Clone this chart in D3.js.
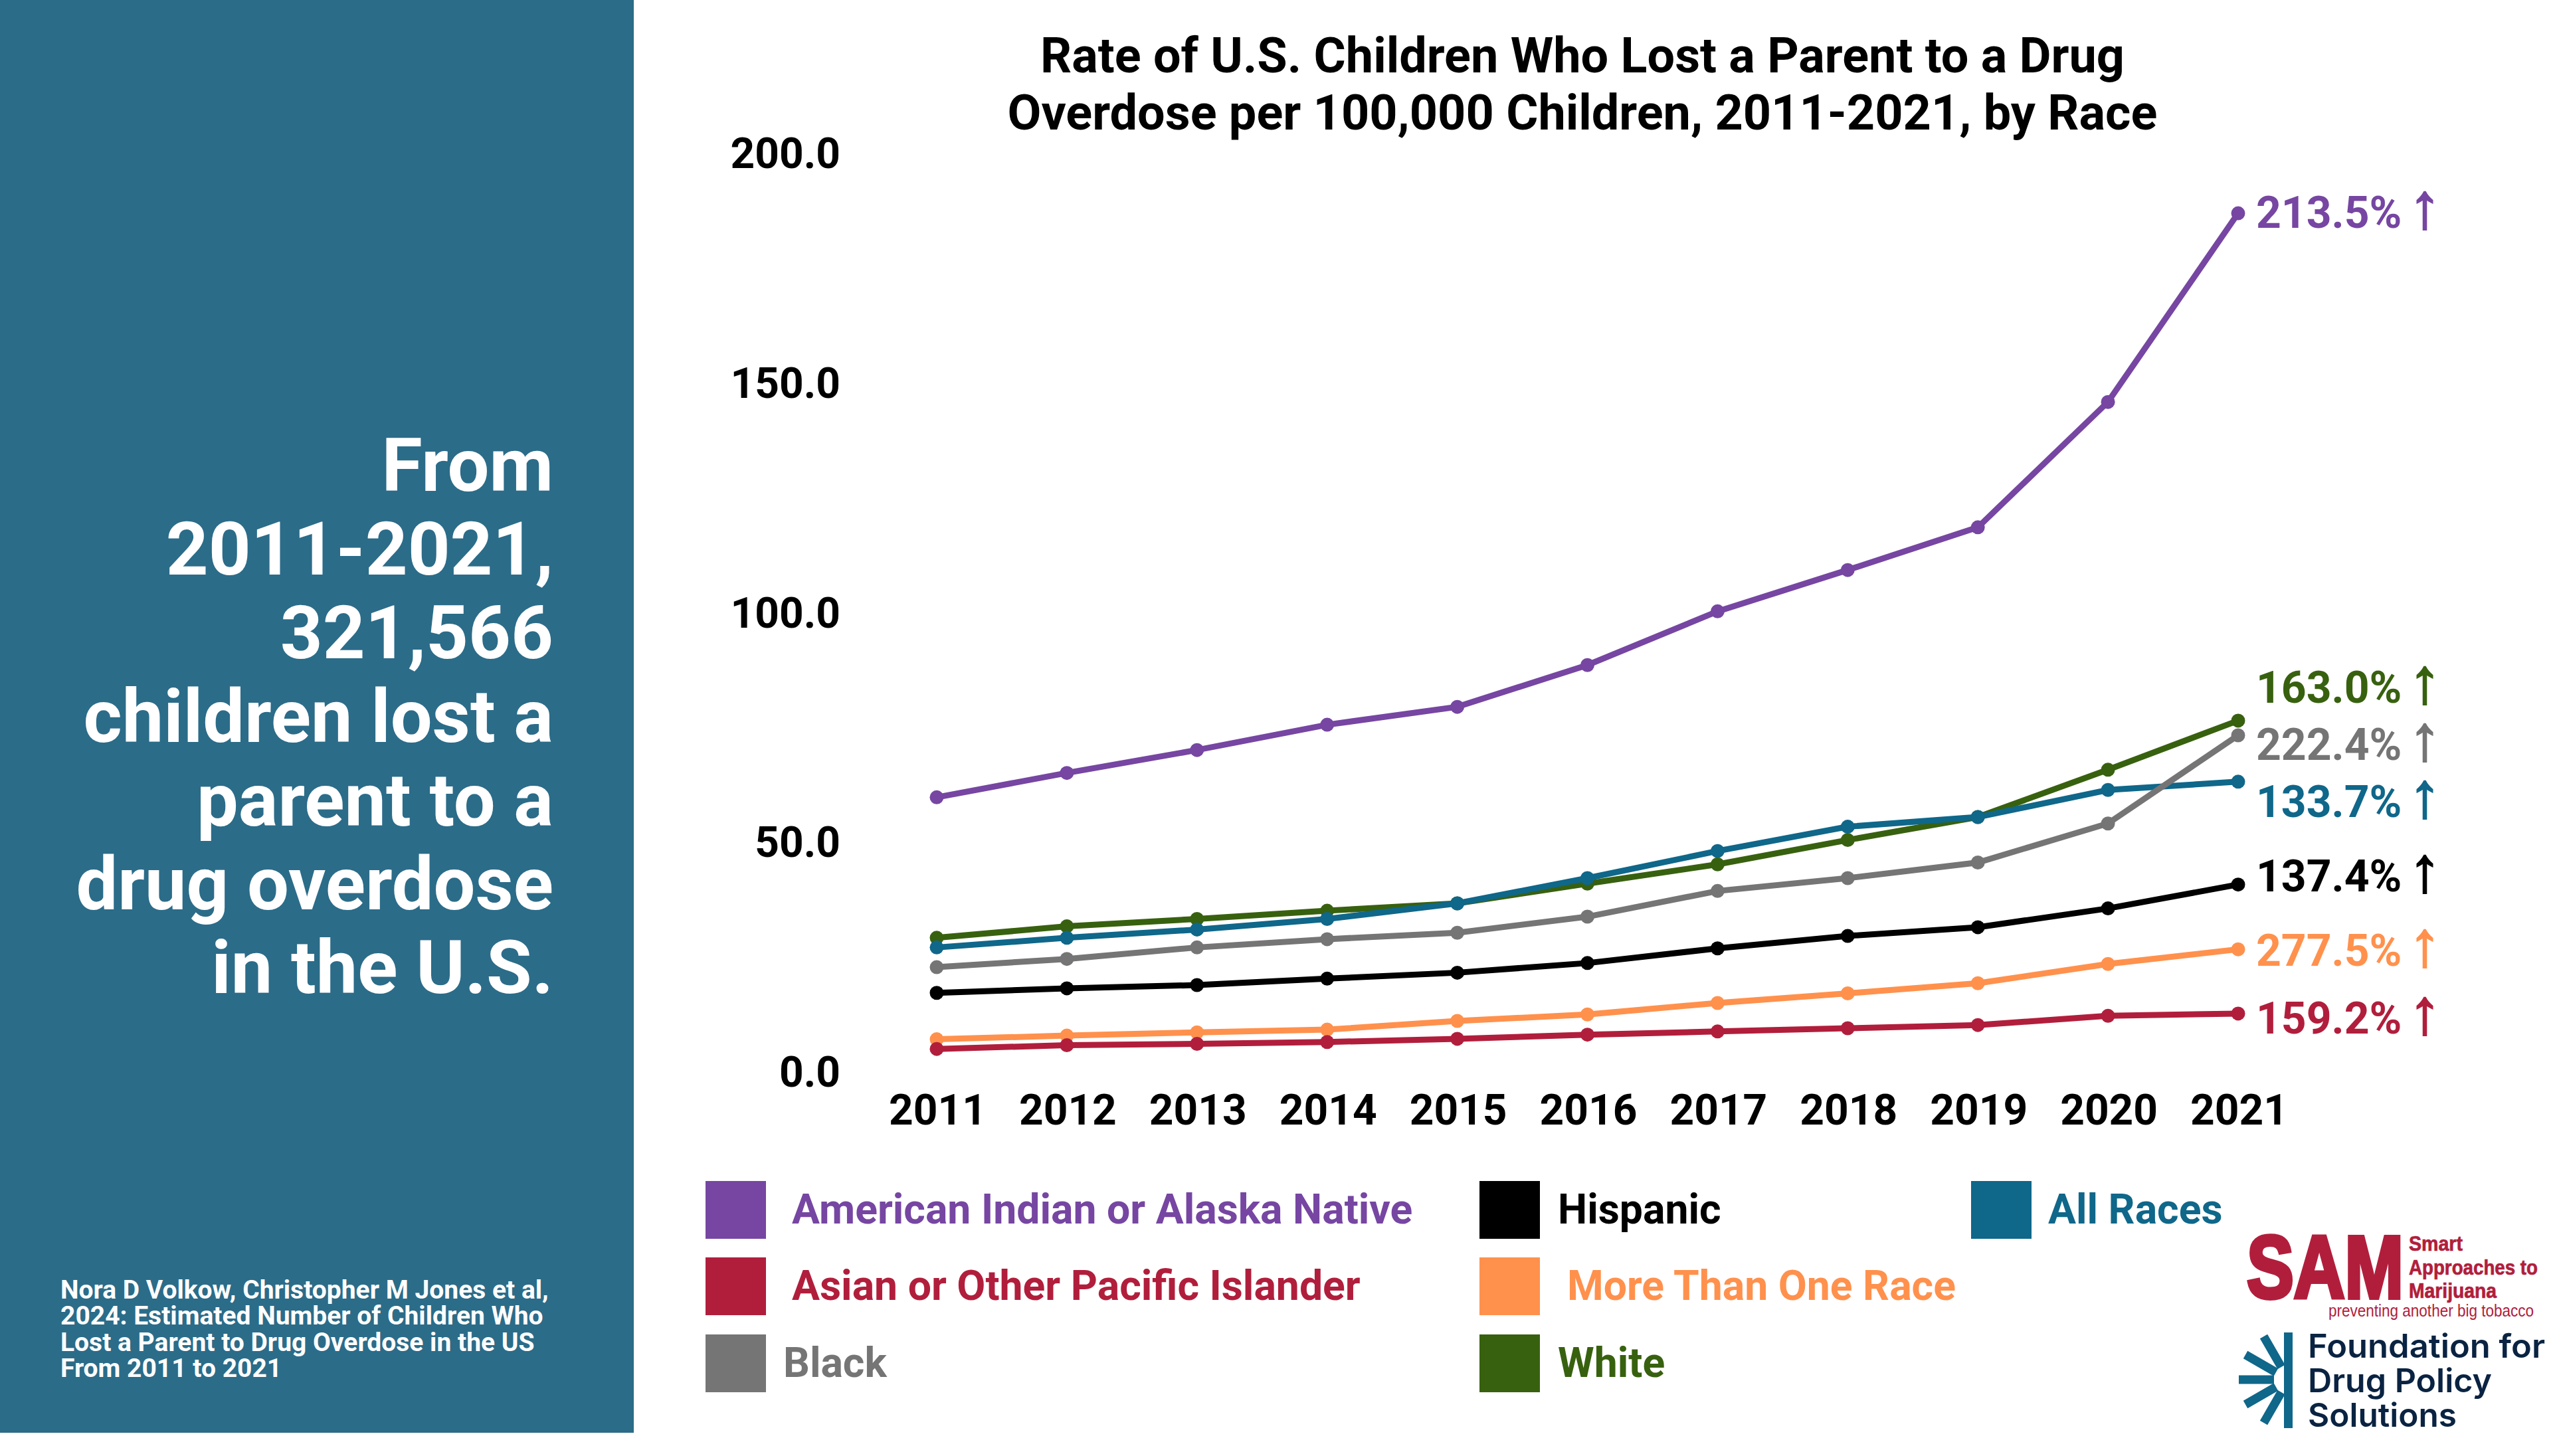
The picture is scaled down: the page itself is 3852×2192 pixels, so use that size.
<!DOCTYPE html>
<html>
<head>
<meta charset="utf-8">
<script src="https://cdn.jsdelivr.net/npm/d3@7"></script>
<style>
	html, body { margin: 0; padding: 0; background: #fff; }
	svg { display: block; }
	text { font-family: Roboto, sans-serif; font-weight: 700; }
</style>
</head>
<body>
<div id="chart"></div>
<script>

var years = [2011, 2012, 2013, 2014, 2015, 2016, 2017, 2018, 2019, 2020, 2021];
var yTicks = [0, 50, 100, 150, 200];

var titleLines = ["Rate of U.S. Children Who Lost a Parent to a Drug", "Overdose per 100,000 Children, 2011-2021, by Race"];
var panelLines = ["From", "2011-2021,", "321,566", "children lost a", "parent to a", "drug overdose", "in the U.S."];
var sourceLines = ["Nora D Volkow, Christopher M Jones et al,", "2024: Estimated Number of Children Who", "Lost a Parent to Drug Overdose in the US", "From 2011 to 2021"];

var aian = [59.7, 65.0, 70.0, 75.5, 79.4, 88.5, 100.2, 109.2, 118.5, 145.8, 186.9];
var white = [29.1, 31.6, 33.2, 35.0, 36.6, 40.9, 45.1, 50.4, 55.4, 65.7, 76.4];
var allRaces = [27.0, 29.1, 30.9, 33.2, 36.6, 42.1, 48.0, 53.3, 55.4, 61.3, 63.1];
var black = [22.7, 24.5, 27.0, 28.8, 30.2, 33.7, 39.3, 42.1, 45.5, 54.0, 73.2];
var hispanic = [17.1, 18.1, 18.8, 20.2, 21.5, 23.6, 26.8, 29.5, 31.4, 35.5, 40.7];
var moreThanOne = [7.0, 7.8, 8.5, 9.1, 11.0, 12.4, 14.9, 17.0, 19.2, 23.4, 26.6];
var asian = [4.9, 5.7, 6.0, 6.4, 7.1, 8.0, 8.7, 9.4, 10.1, 12.1, 12.6];

var seriesNames = ["American Indian or Alaska Native", "White", "All Races", "Black", "Hispanic", "More Than One Race", "Asian or Other Pacific Islander"];
var seriesValues = [aian, white, allRaces, black, hispanic, moreThanOne, asian];
var seriesColors = ["#7646a2", "#38610f", "#0f678a", "#757575", "#000000", "#ff914d", "#b11e3c"];
var changeLabels = ["213.5%", "163.0%", "133.7%", "222.4%", "137.4%", "277.5%", "159.2%"];

var legendOrder = [
	["American Indian or Alaska Native", "Asian or Other Pacific Islander", "Black"],
	["Hispanic", "More Than One Race", "White"],
	["All Races"]
];

var svg = d3.select("#chart").append("svg")
	.attr("width", 3852)
	.attr("height", 2192);

svg.append("rect").attr("width", 3852).attr("height", 2192).attr("fill", "#fff");

// left panel
svg.append("rect").attr("width", 954).attr("height", 2157).attr("fill", "#2b6c89");

svg.selectAll(".panel-line")
	.data(panelLines)
	.join("text")
	.attr("class", "panel-line")
	.attr("x", 833)
	.attr("y", (d, i) => 739 + i * 126)
	.attr("text-anchor", "end")
	.attr("font-size", 111.5)
	.attr("fill", "#fff")
	.text(d => d);

svg.selectAll(".source-line")
	.data(sourceLines)
	.join("text")
	.attr("class", "source-line")
	.attr("x", 91)
	.attr("y", (d, i) => 1955 + i * 39.3)
	.attr("font-size", 39)
	.attr("fill", "#fff")
	.text(d => d);

// title
svg.selectAll(".title-line")
	.data(titleLines)
	.join("text")
	.attr("class", "title-line")
	.attr("x", 2382)
	.attr("y", (d, i) => 109 + i * 86)
	.attr("text-anchor", "middle")
	.attr("font-size", 73.8)
	.attr("fill", "#000")
	.text(d => d);

// scales + axes
var x = d3.scaleLinear().domain([2011, 2021]).range([1410, 3369]);
var y = d3.scaleLinear().domain([0, 200]).range([1613, 230.5]);

var xAxis = svg.append("g")
	.attr("transform", "translate(1, 1648)")
	.call(d3.axisBottom(x).tickValues(years).tickFormat(d3.format("d")).tickSize(0).tickPadding(0));

var yAxis = svg.append("g")
	.attr("transform", "translate(1265, 2)")
	.call(d3.axisLeft(y).tickValues(yTicks).tickFormat(d3.format(".1f")).tickSize(0).tickPadding(0));

[xAxis, yAxis].forEach(g => {
	g.select(".domain").remove();
	g.selectAll("text")
		.attr("font-size", 64)
		.attr("font-family", "Roboto, sans-serif")
		.attr("fill", "#000");
});

// lines
var line = d3.line().x((d, i) => x(years[i])).y(d => y(d));

var groups = svg.selectAll(".series")
	.data(seriesValues)
	.join("g")
	.attr("class", "series");

groups.append("path")
	.attr("d", d => line(d))
	.attr("fill", "none")
	.attr("stroke", (d, i) => seriesColors[i])
	.attr("stroke-width", 9);

groups.selectAll("circle")
	.data((d, i) => d.map((v, j) => ({ v: v, year: years[j], color: seriesColors[i] })))
	.join("circle")
	.attr("cx", d => x(d.year))
	.attr("cy", d => y(d.v))
	.attr("r", 10.5)
	.attr("fill", d => d.color);

// percent change labels, baselines spread by hand so they don't collide
var labelBaselines = [343, 1058, 1230, 1144, 1342, 1454, 1556];

var labels = svg.selectAll(".change")
	.data(changeLabels)
	.join("text")
	.attr("class", "change")
	.attr("x", 3396)
	.attr("y", (d, i) => labelBaselines[i])
	.attr("font-size", 66)
	.attr("fill", (d, i) => seriesColors[i]);

labels.append("tspan").text(d => d + " ");
labels.append("tspan")
	.attr("x", 3626)
	.attr("font-size", 96)
	.attr("stroke", (d, i) => seriesColors[i])
	.attr("stroke-width", 2.5)
	.attr("style", "font-family:'Liberation Sans';font-weight:400")
	.text("\u2191");

// legend
var swatchX = [1062, 2227, 2967];
var swatchY = [1778, 1893, 2009];
var legendTextX = [[1192, 1192, 1179], [2345, 2359, 2345], [3083]];

legendOrder.forEach((col, c) => {
	col.forEach((name, r) => {
		var color = seriesColors[seriesNames.indexOf(name)];
		svg.append("rect")
			.attr("x", swatchX[c])
			.attr("y", swatchY[r])
			.attr("width", 91)
			.attr("height", 87)
			.attr("fill", color);
		svg.append("text")
			.attr("x", legendTextX[c][r])
			.attr("y", swatchY[r] + 64)
			.attr("font-size", 62.5)
			.attr("fill", color)
			.text(name);
	});
});

// SAM logo
var sam = svg.append("g").attr("fill", "#b11e3c");

sam.append("text")
	.attr("x", 3382)
	.attr("y", 1954)
	.attr("textLength", 236)
	.attr("lengthAdjust", "spacingAndGlyphs")
	.attr("font-size", 134)
	.attr("stroke", "#b11e3c")
	.attr("stroke-width", 6)
	.attr("style", "font-family:'Liberation Sans'")
	.text("SAM");

[["Smart", 1883], ["Approaches to", 1919], ["Marijuana", 1954]].forEach(d => {
	sam.append("text")
		.attr("x", 3626)
		.attr("y", d[1])
		.attr("font-size", 31)
		.attr("textLength", d[0] === "Smart" ? 81 : (d[0] === "Marijuana" ? 132 : 194))
		.attr("lengthAdjust", "spacingAndGlyphs")
		.attr("stroke", "#b11e3c")
		.attr("stroke-width", 0.7)
		.attr("style", "font-family:'Liberation Sans'")
		.text(d[0]);
});

sam.append("text")
	.attr("x", 3505)
	.attr("y", 1982)
	.attr("font-size", 25)
	.attr("textLength", 309)
	.attr("lengthAdjust", "spacingAndGlyphs")
	.attr("style", "font-family:'Liberation Sans';font-weight:400")
	.text("preventing another big tobacco");

// foundation logo
var fdps = svg.append("g");

fdps.append("rect").attr("x", 3438).attr("y", 2006).attr("width", 13).attr("height", 144).attr("fill", "#0f678a");

[180, 150, 120, 210, 240].forEach(a => {
	var rad = a * Math.PI / 180;
	fdps.append("line")
		.attr("x1", 3445 + 22 * Math.cos(rad))
		.attr("y1", 2077 + 22 * Math.sin(rad))
		.attr("x2", 3445 + 75 * Math.cos(rad))
		.attr("y2", 2077 + 75 * Math.sin(rad))
		.attr("stroke", "#0f678a")
		.attr("stroke-width", 13);
});

[["Foundation for", 357], ["Drug Policy", 277], ["Solutions", 224]].forEach((t, i) => {
	fdps.append("text")
		.attr("x", 3474)
		.attr("y", 2044 + i * 52)
		.attr("font-size", 49)
		.attr("textLength", t[1])
		.attr("lengthAdjust", "spacingAndGlyphs")
		.attr("fill", "#0a2342")
		.attr("style", "font-family:Inter;font-weight:600")
		.text(t[0]);
});

</script>
</body>
</html>
